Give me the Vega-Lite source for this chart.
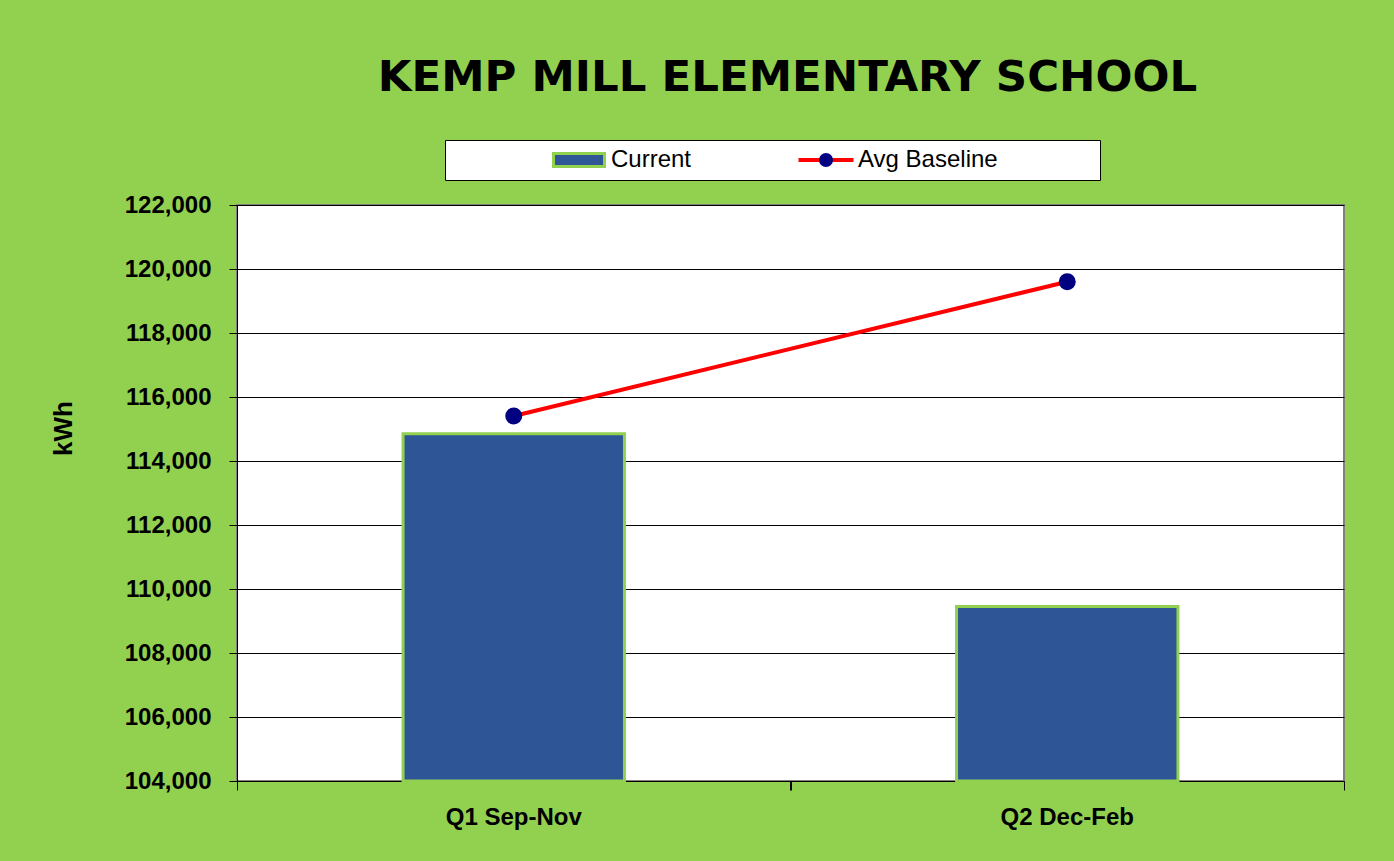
{
  "$schema": "https://vega.github.io/schema/vega-lite/v6.json",
  "autosize": {"type": "none"},
  "width": 1107,
  "height": 576,
  "padding": {"left": 237, "top": 205, "right": 50, "bottom": 80},
  "background": "#92D050",
  "title": {"text": "KEMP MILL ELEMENTARY SCHOOL", "font": "DejaVu Sans", "fontSize": 43.5, "fontWeight": "bold", "color": "black", "anchor": "middle", "frame": "group", "dx": -3, "dy": -35},
  "config": {
    "view": {"fill": "white", "stroke": "#808080", "strokeWidth": 2},
    "legend": {"labelFont": "Liberation Sans", "labelColor": "black", "labelFontSize": 24, "labelLimit": 1000}
  },
  "resolve": {"axis": {"x": "independent"}},
  "data": {"values": [
    {"quarter": "Q1 Sep-Nov", "current": 114850, "baseline": 115406},
    {"quarter": "Q2 Dec-Feb", "current": 109453, "baseline": 119603}
  ]},
  "layer": [
    {
      "mark": {"type": "bar", "stroke": "#92D050", "strokeWidth": 3},
      "encoding": {
        "x": {"field": "quarter", "type": "nominal", "sort": null,
          "scale": {"paddingInner": 0.6, "paddingOuter": 0.3},
          "axis": {"orient": "bottom", "title": null, "labelFont": "Liberation Sans", "labelFontSize": 24, "labelFontWeight": "bold", "labelColor": "black", "labelAngle": 0, "domainColor": "black", "domainWidth": 1, "ticks": false, "labelPadding": 24, "grid": false}
        },
        "y": {"field": "current", "type": "quantitative",
          "scale": {"domain": [104000, 122000], "nice": false, "zero": false},
          "axis": {"values": [104000, 106000, 108000, 110000, 112000, 114000, 116000, 118000, 120000, 122000], "format": ",.0f", "grid": true, "gridColor": "black", "gridOpacity": 1, "gridWidth": 1, "domainColor": "black", "tickColor": "black", "tickSize": 8, "labelFont": "Liberation Sans", "labelFontWeight": "bold", "labelFontSize": 24, "labelColor": "black", "labelPadding": 18, "title": "kWh", "titleFont": "Liberation Sans", "titleFontSize": 26, "titleFontWeight": "bold", "titleColor": "black", "titleX": -174, "titleY": 223, "titleAngle": -90, "titleBaseline": "middle", "titleAlign": "center"}
        },
        "y2": {"datum": 104000},
        "fill": {"datum": "Current", "type": "nominal", "scale": {"range": ["#2E5596"]},
          "legend": {"orient": "none", "legendX": 208, "legendY": -65, "title": null, "padding": 6.5, "fillColor": "white", "strokeColor": "black", "cornerRadius": 0,
            "symbolType": "M-2.125,-0.542H2.125V0.542H-2.125Z M42.375,0", "symbolSize": 576, "symbolStrokeWidth": 3, "symbolStrokeColor": "#92D050", "symbolFillColor": "#2E5596", "symbolOffset": 114,
            "labelOffset": 18.5}
        }
      }
    },
    {
      "mark": {"type": "line", "strokeWidth": 4},
      "encoding": {
        "x": {"field": "quarter", "type": "nominal", "sort": null,
          "axis": {"orient": "bottom", "title": null, "labels": false, "domain": false, "grid": false, "tickColor": "black", "tickSize": 9, "tickOffset": 277}
        },
        "y": {"field": "baseline", "type": "quantitative",
          "axis": {"values": [104000, 106000, 108000, 110000, 112000, 114000, 116000, 118000, 120000, 122000], "format": ",.0f", "grid": true, "gridColor": "black", "gridOpacity": 1, "gridWidth": 1, "domainColor": "black", "tickColor": "black", "tickSize": 8, "labelFont": "Liberation Sans", "labelFontWeight": "bold", "labelFontSize": 24, "labelColor": "black", "labelPadding": 18, "title": "kWh", "titleFont": "Liberation Sans", "titleFontSize": 26, "titleFontWeight": "bold", "titleColor": "black", "titleX": -174, "titleY": 223, "titleAngle": -90, "titleBaseline": "middle", "titleAlign": "center"}
        },
        "stroke": {"datum": "Avg Baseline", "type": "nominal", "scale": {"range": ["#FF0000"]},
          "legend": {"orient": "none", "legendX": 575, "legendY": -59, "title": null, "padding": 0,
            "symbolType": "M-2.29,0H2.29", "symbolSize": 576, "symbolStrokeWidth": 4, "symbolStrokeColor": "#FF0000", "symbolOffset": 0, "labelOffset": 18}
        }
      }
    },
    {
      "mark": {"type": "point", "filled": true, "size": 289, "color": "#000080", "opacity": 1},
      "encoding": {
        "x": {"field": "quarter", "type": "nominal", "sort": null,
          "axis": {"orient": "bottom", "title": null, "labels": false, "domain": false, "grid": false, "tickColor": "black", "tickSize": 9, "tickOffset": -277}
        },
        "y": {"field": "baseline", "type": "quantitative",
          "axis": {"values": [104000, 106000, 108000, 110000, 112000, 114000, 116000, 118000, 120000, 122000], "format": ",.0f", "grid": true, "gridColor": "black", "gridOpacity": 1, "gridWidth": 1, "domainColor": "black", "tickColor": "black", "tickSize": 8, "labelFont": "Liberation Sans", "labelFontWeight": "bold", "labelFontSize": 24, "labelColor": "black", "labelPadding": 18, "title": "kWh", "titleFont": "Liberation Sans", "titleFontSize": 26, "titleFontWeight": "bold", "titleColor": "black", "titleX": -174, "titleY": 223, "titleAngle": -90, "titleBaseline": "middle", "titleAlign": "center"}
        },
        "shape": {"datum": "marker", "type": "nominal", "scale": {"range": ["circle"]},
          "legend": {"orient": "none", "legendX": 582, "legendY": -52, "title": null, "padding": 0,
            "symbolType": "circle", "symbolSize": 196, "symbolStrokeWidth": 0, "symbolFillColor": "#000080", "symbolOpacity": 1, "labelFontSize": 10, "labelOpacity": 0, "labelExpr": "''"}
        }
      }
    }
  ]
}
